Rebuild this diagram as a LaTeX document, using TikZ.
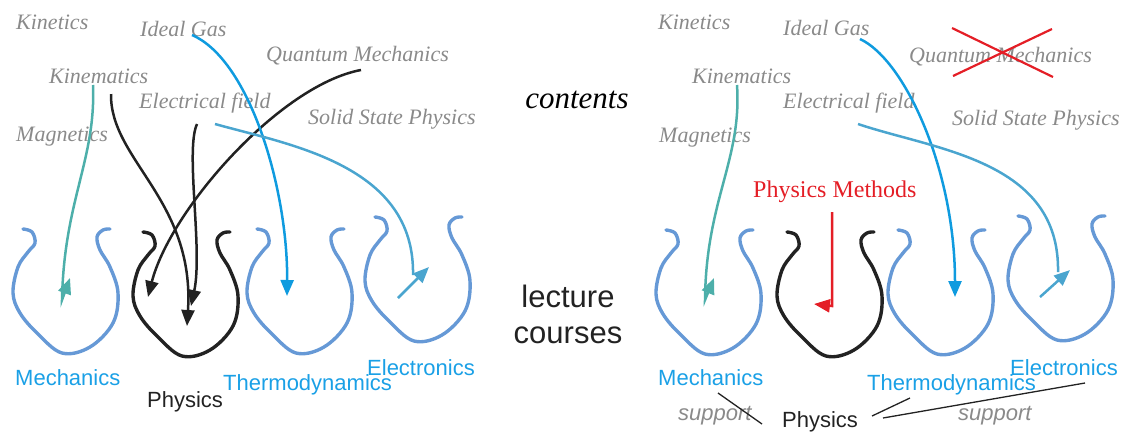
\documentclass[tikz,border=0pt]{standalone}
\usepackage{fontspec}
\setmainfont{Liberation Serif}
\setsansfont{Liberation Sans}
\usetikzlibrary{arrows.meta}
\definecolor{topicgrey}{HTML}{8A8A8A}
\definecolor{cupblue}{HTML}{6699D6}
\definecolor{coursecyan}{HTML}{1AA0E6}
\definecolor{gasblue}{HTML}{0F9BDF}
\definecolor{fieldblue}{HTML}{4AA5CF}
\definecolor{kinteal}{HTML}{4DAFAA}
\definecolor{methodred}{HTML}{E41E26}
\definecolor{inkblack}{HTML}{222222}

\tikzset{
  lcup/.pic={\draw[line width=3.4pt, line cap=round, line join=round]
    plot[smooth, tension=0.6] coordinates {(0,0) (9,3) (12,14) (5,23) (-5,38) (-10,64) (-3,84) (14,104)
      (39,124) (67,118) (90,94) (95,64) (87,38) (77,21) (74,8) (80,1) (87,0)};}
}

\begin{document}
\begin{tikzpicture}[x=1pt, y=-1pt,
    topic/.style={font=\fontsize{22}{26}\selectfont\itshape, text=topicgrey, anchor=base west, inner sep=0pt},
    course/.style={font=\sffamily\fontsize{22}{26}\selectfont, text=#1, anchor=base west, inner sep=0pt},
    course/.default=coursecyan,
    arr/.style={-{Triangle[length=16pt, width=13pt]}, line width=2.5pt, #1},
    strike/.style={line width=1.3pt, #1}
]
\useasboundingbox (0,0) rectangle (1127,432);

% lecture courses (cups)
\pic[cupblue] at (23,229) {lcup};
\pic[inkblack] at (143,232) {lcup};
\pic[cupblue] at (257,229) {lcup};
\pic[cupblue] at (375,217) {lcup};
\pic[cupblue] at (666,230) {lcup};
\pic[inkblack] at (787,232) {lcup};
\pic[cupblue] at (898,230) {lcup};
\pic[cupblue] at (1018,216) {lcup};

% contents, left
\node[topic] (kinL) at (16,29) {Kinetics};
\node[topic] (gasL) at (140,36) {Ideal Gas};
\node[topic] (qmL) at (266,61) {Quantum Mechanics};
\node[topic] (kinemL) at (49,83) {Kinematics};
\node[topic] (efieldL) at (139,108) {Electrical field};
\node[topic] (sspL) at (308,124) {Solid State Physics};
\node[topic] (magL) at (16,141) {Magnetics};

% contents, right
\node[topic] (kinR) at (658,29) {Kinetics};
\node[topic] (gasR) at (783,35) {Ideal Gas};
\node[topic] (qmR) at (909,62) {Quantum Mechanics};
\node[topic] (kinemR) at (692,83) {Kinematics};
\node[topic] (efieldR) at (783,108) {Electrical field};
\node[topic] (sspR) at (952,125) {Solid State Physics};
\node[topic] (magR) at (659,142) {Magnetics};
\node[font=\fontsize{24}{28}\selectfont, text=methodred, anchor=base west, inner sep=0pt] (methodsR) at (753,197) {Physics Methods};

\node[font=\fontsize{31}{35}\selectfont\itshape, anchor=base, inner sep=0pt] (contents) at (577,108) {contents};
\node[font=\sffamily\fontsize{31}{36}\selectfont, text=inkblack, anchor=base, inner sep=0pt] (lecture) at (568,307) {lecture};
\node[font=\sffamily\fontsize{31}{36}\selectfont, text=inkblack, anchor=base, inner sep=0pt] (courses) at (568,343) {courses};

% course names
\node[course] (mechL) at (15,385) {Mechanics};
\node[course=inkblack] (physL) at (147,407) {Physics};
\node[course] (thermoL) at (223,390) {Thermodynamics};
\node[course] (electrL) at (367,375) {Electronics};
\node[course] (mechR) at (658,385) {Mechanics};
\node[course] (thermoR) at (867,390) {Thermodynamics};
\node[course] (electrR) at (1010,375) {Electronics};
\node[course=inkblack] (physR) at (782,427) {Physics};
\node[course=topicgrey, font=\sffamily\fontsize{22}{26}\selectfont\itshape] (supportA) at (678,420) {support};
\node[course=topicgrey, font=\sffamily\fontsize{22}{26}\selectfont\itshape] (supportB) at (958,420) {support};

% connector ends
\coordinate (kinemL-out) at (93,85);
\coordinate (mechL-in) at (70,278);
\coordinate (kinemL-out2) at (111,94);
\coordinate (physL-in1) at (187,326);
\coordinate (efieldL-out) at (197,124);
\coordinate (physL-in2) at (191,306);
\coordinate (qmL-out) at (361,70);
\coordinate (physL-in3) at (148,297);
\coordinate (gasL-out) at (192,35);
\coordinate (thermoL-in) at (287,296);
\coordinate (efieldL-out2) at (215,124);
\coordinate (electrL-in) at (429,267);
\coordinate (kinemR-out) at (737,85);
\coordinate (mechR-in) at (714,278);
\coordinate (gasR-out) at (860,39);
\coordinate (thermoR-in) at (955,297);
\coordinate (efieldR-out) at (858,124);
\coordinate (electrR-in) at (1070,270);
\coordinate (methodsR-out) at (832,212);
\coordinate (physR-in) at (814,304);
\coordinate (physR-a) at (872,416);
\coordinate (physR-b) at (883,418);
\coordinate (thermoR-a) at (910,398);
\coordinate (electrR-a) at (1085,383);

% left arrows
\draw[arr=kinteal] (kinemL-out) .. controls (96,160) and (64,200) .. (62,300) -- (mechL-in);
\draw[arr=inkblack] (kinemL-out2) .. controls (110,160) and (195,200) .. (physL-in1);
\draw[arr=inkblack] (efieldL-out) .. controls (185,150) and (203,250) .. (physL-in2);
\draw[arr=inkblack] (qmL-out) .. controls (280,85) and (170,210) .. (physL-in3);
\draw[arr=gasblue] (gasL-out) .. controls (250,60) and (288,190) .. (thermoL-in);
\draw[arr=fieldblue] (efieldL-out2) .. controls (290,145) and (415,165) .. (413,275) (398,298) -- (electrL-in);

% right arrows
\draw[arr=kinteal] (kinemR-out) .. controls (742,160) and (706,200) .. (705,300) -- (mechR-in);
\draw[arr=gasblue] (gasR-out) .. controls (905,60) and (955,170) .. (thermoR-in);
\draw[arr=fieldblue] (efieldR-out) .. controls (935,150) and (1060,160) .. (1058,272) (1040,297) -- (electrR-in);
\draw[arr=methodred] (methodsR-out) -- (832,306) -- (physR-in);

\draw[strike=methodred, line width=2.2pt] (952,28) -- (1053,77);
\draw[strike=methodred, line width=2.2pt] (953,76) -- (1052,29);
\draw[strike=inkblack] (718,393) -- (762,424);
\draw[strike=inkblack] (physR-a) -- (thermoR-a);
\draw[strike=inkblack] (physR-b) -- (electrR-a);
\end{tikzpicture}
\end{document}
